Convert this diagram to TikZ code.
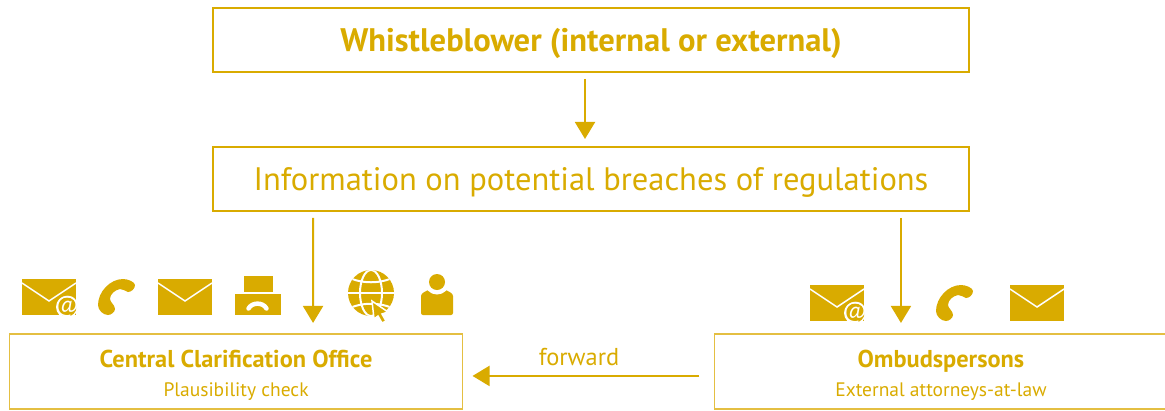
\documentclass[tikz,border=0pt]{standalone}
\usepackage{fontspec}
\setmainfont{PT Sans}
\usepackage{xcolor}
\usetikzlibrary{arrows.meta, positioning}
\definecolor{primary}{RGB}{217,171,0}
\definecolor{pale}{RGB}{228,191,66}
\tikzset{
    topbox/.style={rectangle, minimum width=15.12cm, minimum height=1.28cm, text centered, draw=primary, line width=0.055cm, text=primary, outer sep=0pt, text depth=0pt},
    lowbox/.style={rectangle, minimum width=9.06cm, minimum height=1.5cm, text centered, draw=pale, line width=0.032cm, text=primary, align=center, outer sep=0pt},
    arrow/.style={-{Triangle[length=0.34cm, width=0.4cm]}, draw=primary, line width=0.04cm},
    envelope/.pic={
        \fill[primary] (0,0) rectangle (54,36);
        \draw[white, line width=0.03cm] (0,4) -- (27,22) -- (54,4);
    },
    atmail/.pic={
        \pic {envelope};
        \begin{scope}
            \clip (0,0) rectangle (54,36);
            \fill[white] (45,28) circle (11);
            \fill[primary] (45,28) circle (9.5);
            \node[white, font=\fontsize{13}{13}\selectfont] (at) at (45,27.5) {@};
        \end{scope}
    },
    phone/.pic={
        \fill[primary] (25,0) .. controls (30,0) and (37,3) .. (37,6) .. controls (37,10) and (33,13) .. (30,13) .. controls (27,12) and (25,10) .. (22,10) .. controls (17,11) and (12,15) .. (12,20) .. controls (12,23) and (17,26) .. (17,30) .. controls (17,33) and (13,36) .. (10,36) .. controls (5,36) and (0,31) .. (0,26) .. controls (0,13) and (12,0) .. (25,0) -- cycle;
    },
    fax/.pic={
        \fill[primary] (9,0) rectangle (38,16);
        \fill[primary] (0,18) rectangle (46,39);
        \draw[white, line width=0.09cm, line cap=round] (13.5,32.5) .. controls (17,26) and (28,26) .. (31.5,32.5);
    },
    globe/.pic={
        \fill[primary] (0,0) circle (23);
        \begin{scope}
            \clip (0,0) circle (23);
            \draw[white, line width=0.04cm] (0,0) ellipse (11 and 23);
            \draw[white, line width=0.04cm] (-23,0) -- (23,0);
            \draw[white, line width=0.04cm] (-23,-16) .. controls (-10,-9) and (10,-9) .. (23,-16);
            \draw[white, line width=0.04cm] (-23,16) .. controls (-10,9) and (10,9) .. (23,16);
        \end{scope}
        \filldraw[primary, draw=white, line width=0.03cm] (1,8) -- (17,19) -- (11,21) -- (15,28) -- (11,30) -- (7,23) -- (3,26) -- cycle;
    },
    person/.pic={
        \fill[primary, rounded corners=0.04cm] (0,41) -- (0,24) .. controls (0,19) and (5,17) .. (10,15) -- (22,15) .. controls (27,17) and (32,19) .. (32,24) -- (32,41) -- cycle;
        \fill[white] (16,8) circle (12.5);
        \fill[primary] (16,8) circle (8);
    }
}

\begin{document}
\begin{tikzpicture}[
    x=0.02cm, y=-0.02cm,
    node distance=2.78cm
]
    \useasboundingbox (0,0) rectangle (1165,410);

    % Top boxes
    \node[topbox, font=\fontsize{18.55}{18.55}\selectfont\bfseries] (whistleblower) at (591,40) {Whistleblower (internal or external)};
    \node[topbox, below of=whistleblower, font=\fontsize{18.5}{18.5}\selectfont] (information) {Information on potential breaches of regulations};

    % Lower boxes
    \node[lowbox, below of=information, node distance=3.85cm, xshift=-7.1cm] (clarification) {\fontsize{13.87}{16}\selectfont\bfseries\rule{0pt}{14pt}Central Clarification Office \\[4.5pt] \fontsize{11.1}{12}\selectfont Plausibility check};
    \node[lowbox, below of=information, node distance=3.85cm, xshift=7cm] (ombudspersons) {\fontsize{13.87}{16}\selectfont\bfseries\rule{0pt}{14pt}Ombudspersons \\[4.5pt] \fontsize{11.1}{12}\selectfont External attorneys-at-law};
    \node[text=primary, font=\fontsize{13.9}{13.9}\selectfont] (forward) at (579,357) {forward};

    % Icons
    \pic at (22,279) {atmail};
    \pic at (98,279) {phone};
    \pic at (158,279) {envelope};
    \pic at (235,276) {fax};
    \pic at (371,293) {globe};
    \pic at (421,274) {person};
    \pic at (810,285) {atmail};
    \pic at (936,285) {phone};
    \pic at (1010,285) {envelope};

    % Connections
    \draw[arrow, shorten <=0.14cm, shorten >=0.16cm] ([xshift=-0.12cm]whistleblower.south) -- ([xshift=-0.12cm]information.north);
    \draw[arrow, shorten <=0.14cm, shorten >=0.22cm] ([xshift=-5.56cm]information.south) -- ([xshift=1.54cm]clarification.north);
    \draw[arrow, shorten <=0.14cm, shorten >=0.22cm] ([xshift=6.2cm]information.south) -- ([xshift=-0.8cm]ombudspersons.north);
    \draw[arrow, shorten <=0.3cm, shorten >=0.2cm] ([yshift=-0.09cm]ombudspersons.west) -- ([yshift=-0.09cm]clarification.east);
\end{tikzpicture}
\end{document}
